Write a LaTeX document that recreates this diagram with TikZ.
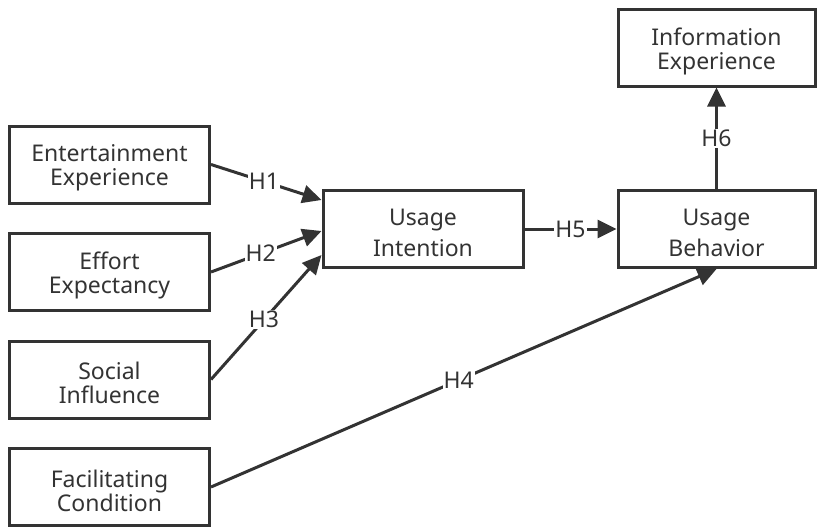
\documentclass[tikz,border=0pt]{standalone}
\usepackage{fontspec}
\setmainfont{Noto Sans}
\usetikzlibrary{arrows.meta,calc}
\definecolor{ink}{HTML}{333333}
\tikzset{
  box/.style={draw=ink, line width=3pt, minimum width=200pt, minimum height=77pt, inner sep=0pt},
  boxtext/.style={text=ink, align=center, inner sep=0pt, yshift=-3.5pt, font=\fontsize{23}{24}\selectfont},
  widetext/.style={boxtext, font=\fontsize{23}{31}\selectfont},
  link/.style={draw=ink, line width=3pt, -{Triangle[length=19pt,width=18pt]}},
  hlab/.style={fill=white, text=ink, inner sep=1pt, font=\fontsize{23}{24}\selectfont},
}
\begin{document}
\begin{tikzpicture}[x=1pt,y=-1pt]
\useasboundingbox (0,0) rectangle (817,528);
\node[box] (ee) at (109.5,164.5) {};
\node[box] (ef) at (109.5,272) {};
\node[box] (si) at (109.5,379.5) {};
\node[box] (fc) at (109.5,487) {};
\node[box] (ui) at (423,229) {};
\node[box, minimum width=197pt] (ub) at (716.5,229) {};
\node[box, minimum width=197pt] (ie) at (716.5,47.5) {};
\node[boxtext] (eet) at (ee) {Entertainment\\Experience};
\node[boxtext] (eft) at (ef) {Effort\\Expectancy};
\node[boxtext] (sit) at (si) {Social\\Influence};
\node[boxtext] (fct) at (fc) {Facilitating\\Condition};
\node[widetext] (uit) at (ui) {Usage\\Intention};
\node[widetext] (ubt) at (ub) {Usage\\Behavior};
\node[boxtext] (iet) at (ie) {Information\\Experience};
\coordinate (ui1) at ($(ui.west)+(0,-29)$);
\coordinate (ui2) at ($(ui.west)+(0,2)$);
\coordinate (ui3) at ($(ui.west)+(0,26)$);
\draw[link] (ee.east) -- node[hlab, pos=0.48] {H1} (ui1);
\draw[link] (ef.east) -- node[hlab, pos=0.45] {H2} (ui2);
\draw[link] (si.east) -- node[hlab, pos=0.48] {H3} (ui3);
\draw[link] (fc.east) -- node[hlab, pos=0.49] {H4} (ub.south);
\draw[link] (ui.east) -- node[hlab] {H5} (ub.west);
\draw[link] (ub.north) -- node[hlab] {H6} (ie.south);
\end{tikzpicture}
\end{document}
